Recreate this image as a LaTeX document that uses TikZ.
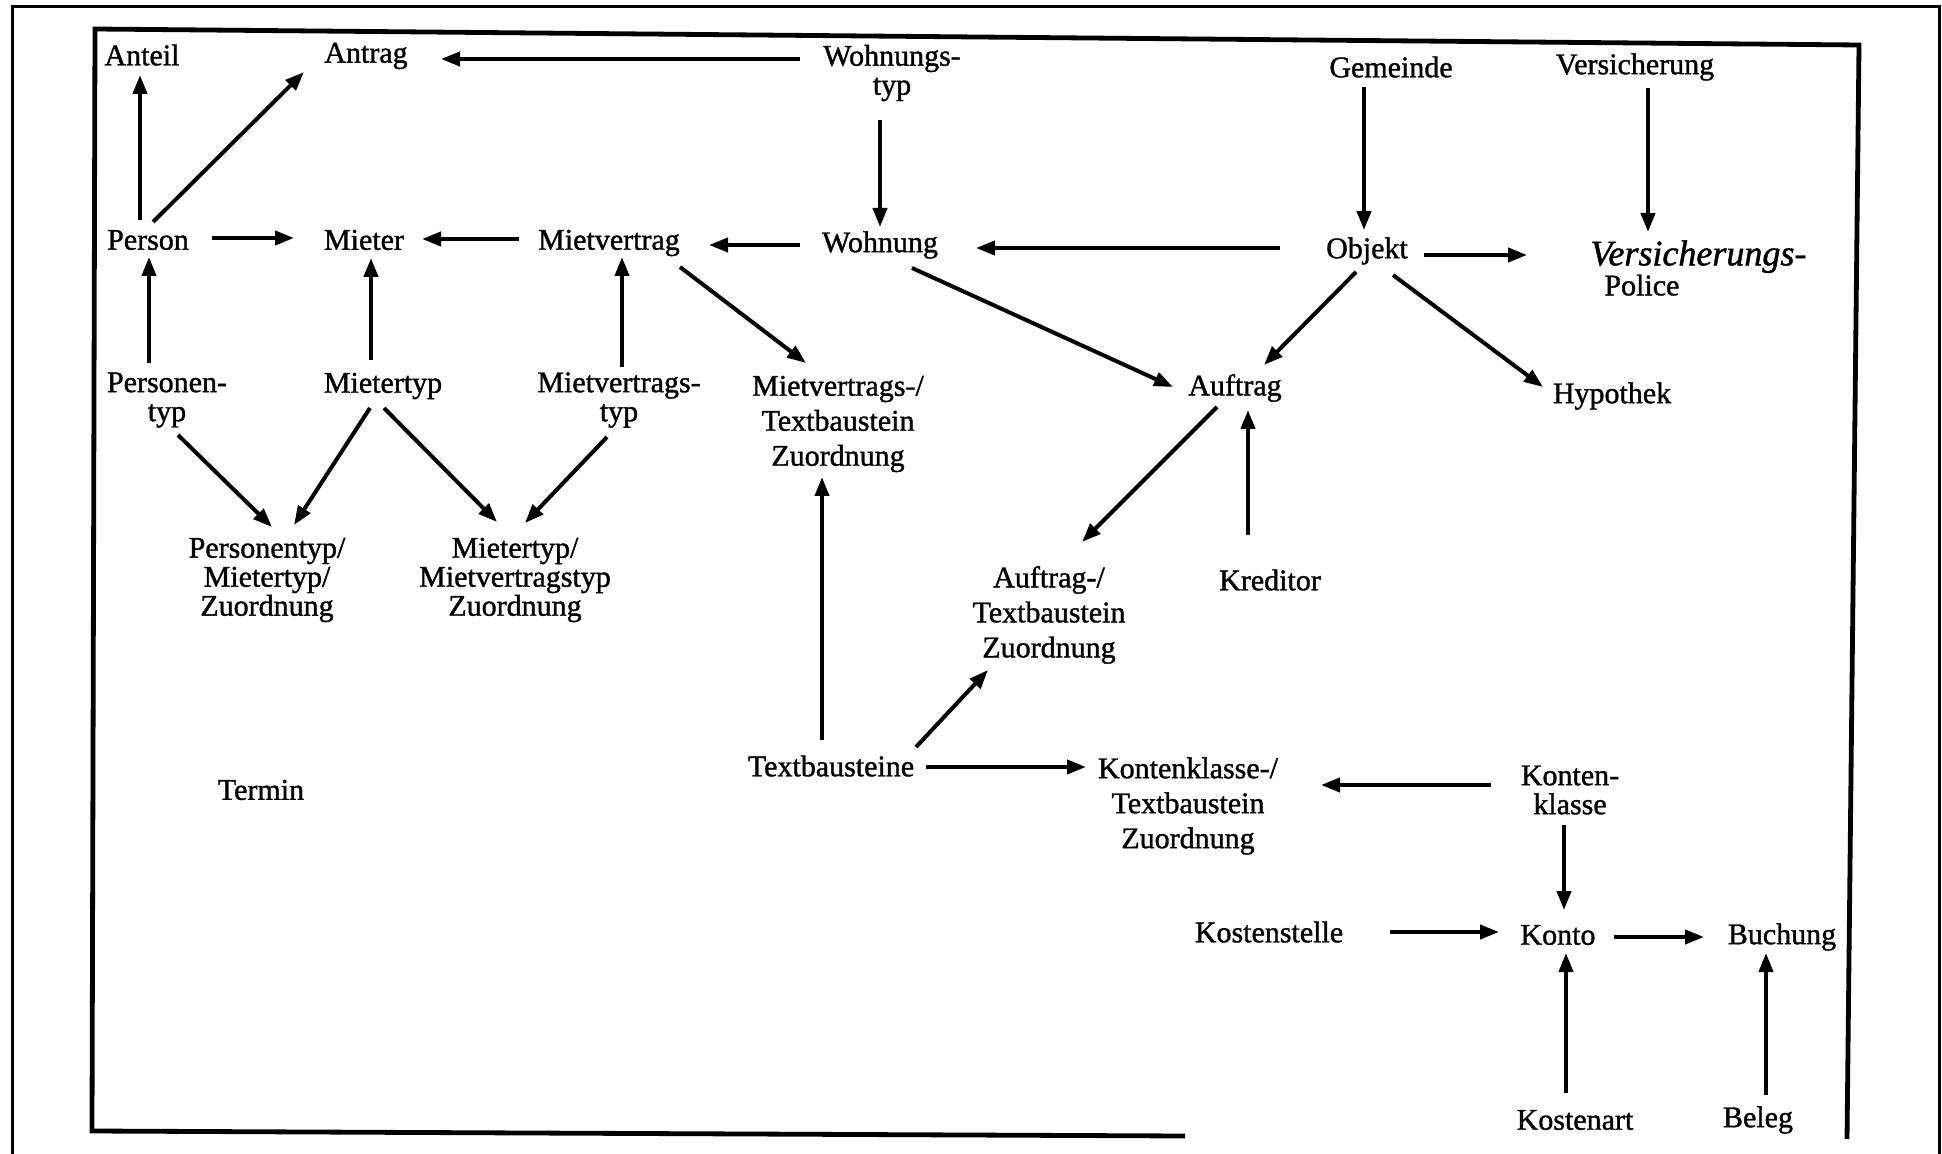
\documentclass[tikz,border=0pt]{standalone}
\usepackage{fontspec}
\setmainfont{Liberation Serif}
\newfontfamily\scanfont{Liberation Serif}[FakeBold=1.2]
\usetikzlibrary{arrows.meta}

\begin{document}
\begin{tikzpicture}[x=0.5pt,y=-0.5pt,
  lbl/.style={font=\scanfont\fontsize{15}{14.5}\selectfont, inner sep=0pt, align=center},
  lbltall/.style={lbl, font=\scanfont\fontsize{15}{17.5}\selectfont},
  arr/.style={-{Triangle[length=9.5pt,width=7pt]}, line width=2pt},
  frameline/.style={line width=2.4pt, line join=miter}]
\useasboundingbox (0,0) rectangle (1942,1154);

% outer sheet border
\draw[line width=1.5pt] (12,1154) -- (12,7) -- (1939,7) -- (1939,1154);
% frame of the data model
\draw[frameline] (1185,1136) -- (92,1131) -- (95,29) -- (1859,45) -- (1847,1139);

% entities
\node[lbl] (anteil)    at (142,55)   {Anteil};
\node[lbl] (antrag)    at (366,56)   {Antrag};
\node[lbl] (wtyp)      at (892,73)   {Wohnungs-\\typ};
\node[lbl] (gemeinde)  at (1391,67)  {Gemeinde};
\node[lbl] (versich)   at (1635,67)  {Versicherung};
\node[lbl] (person)    at (148,240)  {Person};
\node[lbl] (mieter)    at (364,240)  {Mieter};
\node[lbl] (mvertrag)  at (609,243)  {Mietvertrag};
\node[lbl] (wohnung)   at (880,245)  {Wohnung};
\node[lbl] (objekt)    at (1367,251) {Objekt};
\node[lbl, anchor=west, align=left, font=\scanfont\fontsize{15}{15}\selectfont] (police) at (1590,268)
  {{\fontsize{18}{15}\selectfont\itshape Versicherungs-}\\\hspace{7pt}Police};
\node[lbl] (ptyp)      at (167,400)  {Personen-\\typ};
\node[lbl] (mtyp)      at (383,386)  {Mietertyp};
\node[lbl] (mvtyp)     at (619,400)  {Mietvertrags-\\typ};
\node[lbltall] (mvtz)  at (838,424)  {Mietvertrags-/\\Textbaustein\\Zuordnung};
\node[lbl] (auftrag)   at (1235,388) {Auftrag};
\node[lbl] (hypothek)  at (1612,396) {Hypothek};
\node[lbl] (ptmz)      at (267,580)  {Personentyp/\\Mietertyp/\\Zuordnung};
\node[lbl] (mmz)       at (515,580)  {Mietertyp/\\Mietvertragstyp\\Zuordnung};
\node[lbltall] (atz)   at (1049,615) {Auftrag-/\\Textbaustein\\Zuordnung};
\node[lbl] (kreditor)  at (1270,580) {Kreditor};
\node[lbl] (textb)     at (831,766)  {Textbausteine};
\node[lbltall] (ktz)   at (1188,806) {Kontenklasse-/\\Textbaustein\\Zuordnung};
\node[lbl] (kklasse)   at (1570,790) {Konten-\\klasse};
\node[lbl] (termin)    at (261,790)  {Termin};
\node[lbl] (kstelle)   at (1269,932) {Kostenstelle};
\node[lbl] (konto)     at (1558,935) {Konto};
\node[lbl] (buchung)   at (1782,937) {Buchung};
\node[lbl] (kostenart) at (1575,1120) {Kostenart};
\node[lbl] (beleg)     at (1758,1120) {Beleg};

% relationships
\draw[arr] ([shift={(-8,-20)}]person.center) -- ([shift={(-2,20)}]anteil.center);
\draw[arr] ([shift={(5,-18)}]person.center) -- ([shift={(-62,16)}]antrag.center);
\draw[arr] ([shift={(-92,-14)}]wtyp.center) -- ([shift={(75,3)}]antrag.center);
\draw[arr] ([shift={(-12,47)}]wtyp.center) -- ([shift={(0,-18)}]wohnung.center);
\draw[arr] ([shift={(64,-2)}]person.center) -- ([shift={(-70,-2)}]mieter.center);
\draw[arr] ([shift={(-90,-4)}]mvertrag.center) -- ([shift={(58,-1)}]mieter.center);
\draw[arr] ([shift={(-80,0)}]wohnung.center) -- ([shift={(100,2)}]mvertrag.center);
\draw[arr] ([shift={(-87,-3)}]objekt.center) -- ([shift={(96,3)}]wohnung.center);
\draw[arr] ([shift={(-27,20)}]gemeinde.center) -- ([shift={(-3,-21)}]objekt.center);
\draw[arr] ([shift={(13,21)}]versich.center) -- ([shift={(58,-36)}]police.west);
\draw[arr] ([shift={(57,4)}]objekt.center) -- ([shift={(-63,-13)}]police.west);
\draw[arr] ([shift={(-11,21)}]objekt.center) -- ([shift={(29,-23)}]auftrag.center);
\draw[arr] ([shift={(26,24)}]objekt.center) -- ([shift={(-69,-9)}]hypothek.center);
\draw[arr] ([shift={(32,23)}]wohnung.center) -- ([shift={(-62,-1)}]auftrag.center);
\draw[arr] ([shift={(71,24)}]mvertrag.center) -- ([shift={(-32,-61)}]mvtz.center);
\draw[arr] ([shift={(11,35)}]ptyp.center) -- ([shift={(5,-53)}]ptmz.center);
\draw[arr] ([shift={(-13,22)}]mtyp.center) -- ([shift={(27,-55)}]ptmz.center);
\draw[arr] ([shift={(1,22)}]mtyp.center) -- ([shift={(-18,-58)}]mmz.center);
\draw[arr] ([shift={(-12,37)}]mvtyp.center) -- ([shift={(10,-57)}]mmz.center);
\draw[arr] ([shift={(-9,-26)}]textb.center) -- ([shift={(-16,53)}]mvtz.center);
\draw[arr] ([shift={(85,-19)}]textb.center) -- ([shift={(-61,55)}]atz.center);
\draw[arr] ([shift={(-12,-26)}]mtyp.center) -- ([shift={(7,18)}]mieter.center);
\draw[arr] ([shift={(-18,-37)}]ptyp.center) -- ([shift={(1,17)}]person.center);
\draw[arr] ([shift={(3,-33)}]mvtyp.center) -- ([shift={(13,14)}]mvertrag.center);
\draw[arr] ([shift={(-18,19)}]auftrag.center) -- ([shift={(33,-73)}]atz.center);
\draw[arr] ([shift={(-22,-45)}]kreditor.center) -- ([shift={(13,22)}]auftrag.center);
\draw[arr] ([shift={(95,1)}]textb.center) -- ([shift={(-102,-39)}]ktz.center);
\draw[arr] ([shift={(-79,-5)}]kklasse.center) -- ([shift={(133,-21)}]ktz.center);
\draw[arr] ([shift={(-6,35)}]kklasse.center) -- ([shift={(6,-25)}]konto.center);
\draw[arr] ([shift={(121,0)}]kstelle.center) -- ([shift={(-59,-3)}]konto.center);
\draw[arr] ([shift={(56,2)}]konto.center) -- ([shift={(-78,0)}]buchung.center);
\draw[arr] ([shift={(-9,-27)}]kostenart.center) -- ([shift={(8,18)}]konto.center);
\draw[arr] ([shift={(8,-25)}]beleg.center) -- ([shift={(-16,16)}]buchung.center);
\end{tikzpicture}
\end{document}
